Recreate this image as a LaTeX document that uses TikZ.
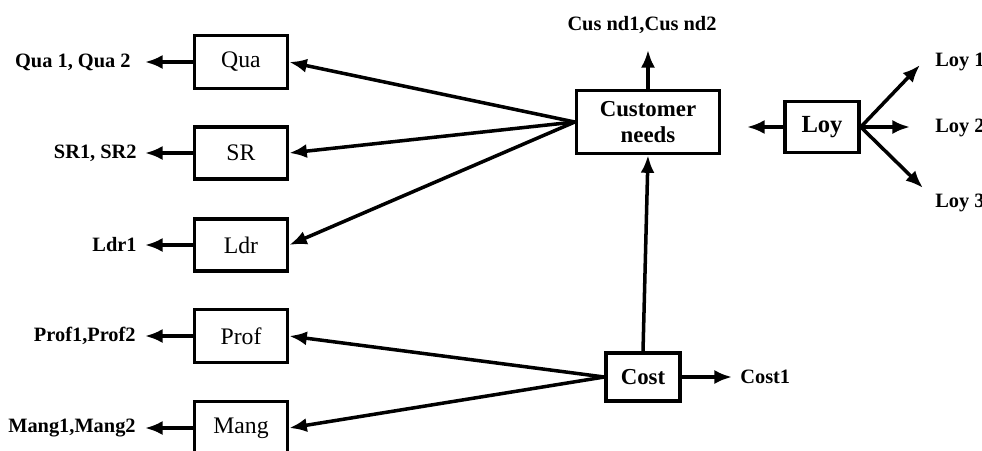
\documentclass[tikz,border=0pt]{standalone}
\usepackage{fontspec}
\setmainfont{Liberation Serif}
\usetikzlibrary{arrows.meta}

\begin{document}
\begin{tikzpicture}[x=0.02cm,y=-0.02cm]
            \tikzset{box/.style = {shape=rectangle, draw, line width=2pt, font=\fontsize{13.5}{15}\selectfont}}
            \tikzset{bbox/.style = {box, font=\fontsize{13}{14.5}\selectfont\bfseries, align=center}}
            \tikzset{lbl/.style = {font=\fontsize{11.6}{13}\selectfont\bfseries, inner sep=0pt}}
            \tikzset{arr/.style = {draw, line width=2pt, -{Latex[length=10pt,width=8pt]}}}
            \useasboundingbox (0,0) rectangle (982,450);
            % boxes
            \node[box, minimum width=93*0.02cm, minimum height=53*0.02cm] (qua) at (241,62) {Qua};
            \node[box, minimum width=93*0.02cm, minimum height=52*0.02cm] (sr) at (241,153) {SR};
            \node[box, minimum width=93*0.02cm, minimum height=52*0.02cm] (ldr) at (241,245) {Ldr};
            \node[box, minimum width=93*0.02cm, minimum height=53*0.02cm] (prof) at (241,336) {Prof};
            \node[box, minimum width=93*0.02cm, minimum height=53*0.02cm] (mang) at (241,428) {Mang};
            \node[bbox, minimum width=143*0.02cm, minimum height=63*0.02cm] (cn) at (648,122) {Customer\\needs};
            \node[bbox, font=\fontsize{14}{16}\selectfont\bfseries, minimum width=74*0.02cm, minimum height=51*0.02cm] (loy) at (822,127) {Loy};
            \node[bbox, minimum width=74*0.02cm, minimum height=48*0.02cm] (cost) at (643,377) {Cost};
            % labels
            \node[lbl, anchor=east] (qual) at (131,62) {Qua 1, Qua 2};
            \node[lbl, anchor=east] (srl) at (137,153) {SR1, SR2};
            \node[lbl, anchor=east] (ldrl) at (137,245) {Ldr1};
            \node[lbl, anchor=east] (profl) at (136,336) {Prof1,Prof2};
            \node[lbl, anchor=east] (mangl) at (136,428) {Mang1,Mang2};
            \node[lbl] (cnl) at (642,25) {Cus nd1,Cus nd2};
            \node[lbl, anchor=west] (loy1) at (935,62) {Loy 1};
            \node[lbl, anchor=west] (loy2) at (935,128) {Loy 2};
            \node[lbl, anchor=west] (loy3) at (935,203) {Loy 3};
            \node[lbl, anchor=west] (costl) at (740,377) {Cost1};
            % end points
            \coordinate (qt) at (145,62);
            \coordinate (st) at (145,153);
            \coordinate (lt) at (145,245);
            \coordinate (pt) at (145,336);
            \coordinate (mt) at (145,428);
            \coordinate (ct) at (648,50);
            \coordinate (yt) at (747,127);
            \coordinate (y1) at (920,65);
            \coordinate (y2) at (910,127);
            \coordinate (y3) at (923,188);
            \coordinate (kt) at (732,377);
            % edges
            \draw[arr] (qua) -- (qt);
            \draw[arr] (sr) -- (st);
            \draw[arr] (ldr) -- (lt);
            \draw[arr] (prof) -- (pt);
            \draw[arr] (mang) -- (mt);
            \draw[arr] (cn.west) -- (qua.east);
            \draw[arr] (cn.west) -- (sr.east);
            \draw[arr] (cn.west) -- (ldr.east);
            \draw[arr] (cn.north) -- (ct);
            \draw[arr] (loy.west) -- (yt);
            \draw[arr] (loy.east) -- (y1);
            \draw[arr] (loy.east) -- (y2);
            \draw[arr] (loy.east) -- (y3);
            \draw[arr] (cost.north) -- (cn.south);
            \draw[arr] (cost.west) -- (prof.east);
            \draw[arr] (cost.west) -- (mang.east);
            \draw[arr] (cost.east) -- (kt);
        \end{tikzpicture}
\end{document}
